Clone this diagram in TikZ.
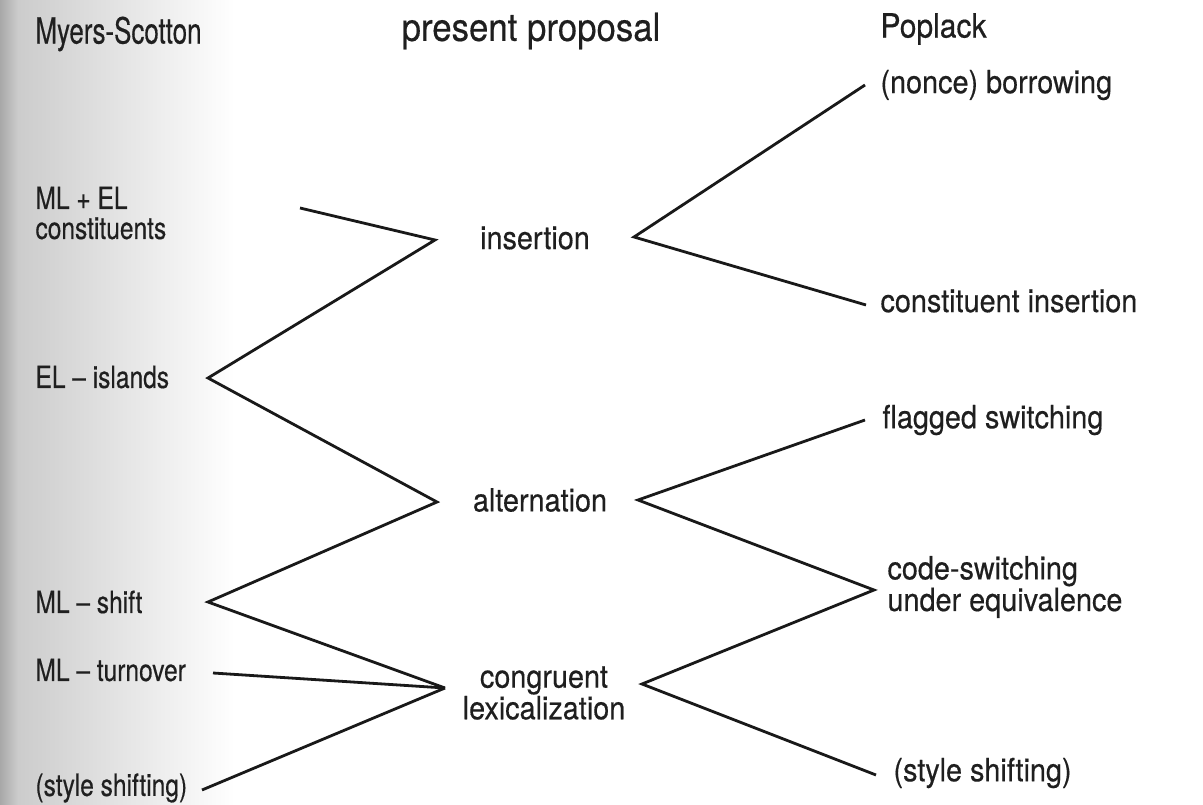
\documentclass[tikz,border=0pt]{standalone}
\usepackage{fontspec}
\setmainfont{TeX Gyre Heros}[FakeStretch=0.9,FakeBold=0.4]
\newfontfamily\spinefont{TeX Gyre Heros}[FakeStretch=0.8,FakeBold=0.4]
\newfontfamily\spinehead{TeX Gyre Heros}[FakeStretch=0.72,FakeBold=0.4]
\tikzset{every picture/.style={line width=0.75pt}}

\begin{document}
\begin{tikzpicture}[x=0.75pt,y=0.75pt,yscale=-1,xscale=1,
	zig/.style={line width=2.1pt, line join=miter, draw=black!90},
	lbl/.style={anchor=west, inner sep=0pt, align=left, text=black!88, font=\fontsize{24}{21.75}\selectfont},
	spine/.style={anchor=west, inner sep=0pt, align=left, text=black!88, font=\spinefont\fontsize{23}{22.5}\selectfont},
	mid/.style={inner sep=0pt, align=center, text=black!88, font=\fontsize{24}{21.75}\selectfont},
	head/.style={inner sep=0pt, text=black!88, font=\fontsize{29}{30}\selectfont}]
	\path (0,0) rectangle (1203,805); %set diagram size

	%Shading of the scan near the spine
	\shade[left color=black!34, right color=black!20, draw=none] (0,0) rectangle (18,805);
	\shade[left color=black!20, right color=white, draw=none] (18,0) rectangle (235,805);

	% Headings
	\node[head, anchor=west, font=\spinehead\fontsize{27}{28}\selectfont] (hmyers) at (35,34) {Myers-Scotton};
	\node[head] (hprop) at (531,31) {present proposal};
	\node[head, anchor=west, font=\fontsize{25}{26}\selectfont] (hpop) at (880,29) {Poplack};

	% Text Node
	\node[spine] (tmlel) at (35,213) {ML + EL\\constituents};
	\node[spine] (tisl) at (35,377) {EL – islands};
	\node[spine] (tshift) at (35,602) {ML – shift};
	\node[spine] (tturn) at (35,670) {ML – turnover};
	\node[spine] (tstyle) at (35,788) {(style shifting)};

	% Text Node
	\node[mid] (tins) at (535,238) {insertion};
	\node[mid] (talt) at (540,500) {alternation};
	\node[mid] (tcon) at (544,693) {congruent\\lexicalization};

	% Text Node
	\node[lbl] (tborrow) at (880,85) {(nonce) borrowing};
	\node[lbl] (tcins) at (880,301) {constituent insertion};
	\node[lbl] (tflag) at (882,420) {flagged switching};
	\node[lbl] (tcsw) at (887,587) {code-switching\\under equivalence};
	\node[lbl] (tstyr) at (893,773) {(style shifting)};

	% Ends and turning points
	\coordinate (mlel) at (300,208);
	\coordinate (insL) at (435,240);
	\coordinate (isl) at (208,378);
	\coordinate (altL) at (437,502);
	\coordinate (shift) at (208,602);
	\coordinate (conL) at (445,688);
	\coordinate (turn) at (213,673);
	\coordinate (styl) at (202,790);
	\coordinate (insR) at (634,237);
	\coordinate (borrow) at (865,85);
	\coordinate (cins) at (866,305);
	\coordinate (altR) at (638,500);
	\coordinate (flag) at (865,420);
	\coordinate (csw) at (874,590);
	\coordinate (conR) at (642,684);
	\coordinate (styr) at (876,775);

	%Straight Lines
	\draw[zig] (mlel) -- (insL) -- (isl) -- (altL) -- (shift) -- (conL);
	\draw[zig] (turn) -- (conL);
	\draw[zig] (styl) -- (conL);
	%Straight Lines
	\draw[zig] (borrow) -- (insR) -- (cins);
	\draw[zig] (flag) -- (altR) -- (csw) -- (conR) -- (styr);

\end{tikzpicture}
\end{document}
